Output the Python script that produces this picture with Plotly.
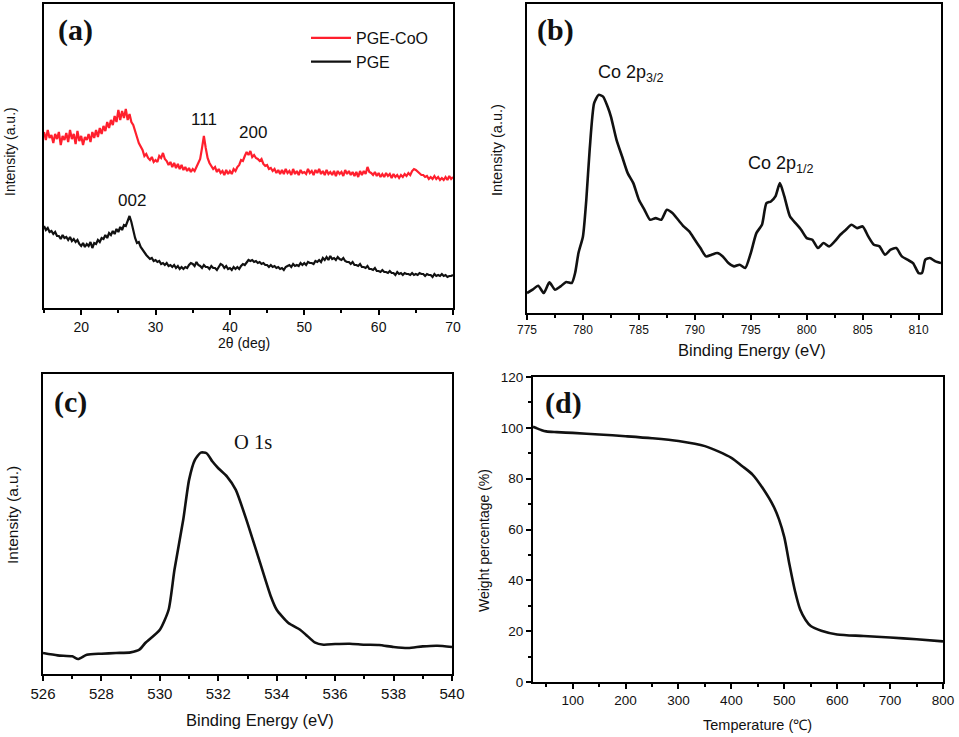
import numpy as np
import plotly.graph_objects as go

W, H = 959, 737

# ---- (a) XRD, 0.25 deg steps from 15 to 70
xrd_two_theta = np.arange(15, 70.001, 0.25)
pge_coo = [
    176, 168, 178, 170, 173, 165, 174, 169, 176, 163, 172, 168, 175, 166, 178, 169,
    174, 164, 177, 167, 172, 163, 171, 168, 174, 166, 176, 170, 178, 171, 180, 174,
    182, 177, 186, 180, 188, 183, 192, 186, 198, 188, 197, 190, 199, 188, 194, 186,
    183, 176, 171, 165, 162, 158, 152, 154, 150, 148, 151, 146, 148, 146, 152, 150,
    155, 149, 147, 143, 146, 141, 145, 140, 144, 139, 143, 138, 141, 137, 140, 136,
    139, 137, 141, 145, 149, 160, 172, 160, 150, 145, 142, 139, 141, 136, 139, 135,
    137, 133, 138, 134, 137, 134, 139, 137, 141, 143, 148, 147, 152, 156, 153, 157,
    151, 153, 150, 149, 147, 149, 144, 142, 143, 139, 140, 137, 139, 135, 138, 134,
    138, 134, 139, 135, 137, 133, 139, 134, 137, 133, 138, 135, 136, 134, 139, 135,
    137, 133, 138, 135, 139, 134, 137, 133, 138, 134, 136, 133, 137, 132, 137, 134,
    136, 132, 138, 134, 137, 133, 136, 132, 136, 131, 137, 133, 137, 134, 141, 136,
    135, 133, 136, 132, 135, 131, 134, 131, 135, 132, 134, 130, 134, 131, 133, 130,
    133, 131, 134, 132, 135, 133, 137, 139, 138, 136, 134, 133, 133, 131, 132, 129,
    131, 129, 132, 129, 131, 128, 130, 128, 131, 128, 132, 129, 131,
]
pge = [
    82, 78, 80, 76, 77, 74, 76, 72, 72, 69, 73, 70, 71, 68, 71, 67,
    69, 66, 68, 64, 62, 65, 61, 64, 62, 66, 60, 65, 64, 68, 66, 70,
    69, 73, 70, 75, 73, 77, 74, 79, 76, 81, 78, 83, 82, 87, 92, 86,
    76, 70, 65, 66, 61, 58, 56, 53, 51, 49, 50, 47, 48, 46, 47, 44,
    45, 43, 45, 42, 43, 41, 43, 40, 42, 39, 41, 39, 41, 40, 43, 45,
    44, 42, 46, 43, 42, 40, 43, 41, 41, 39, 42, 40, 40, 38, 41, 44,
    43, 40, 42, 39, 40, 38, 41, 39, 41, 39, 42, 44, 43, 45, 48, 47,
    48, 46, 47, 45, 46, 44, 45, 43, 43, 41, 43, 41, 42, 40, 41, 39,
    40, 38, 41, 42, 43, 41, 44, 42, 43, 42, 45, 43, 45, 43, 46, 45,
    45, 44, 47, 46, 48, 46, 50, 48, 51, 48, 52, 49, 50, 48, 51, 49,
    48, 50, 47, 46, 46, 44, 46, 43, 43, 42, 44, 41, 41, 40, 42, 39,
    39, 38, 40, 37, 37, 36, 38, 36, 36, 35, 37, 35, 35, 33, 36, 34,
    35, 33, 35, 34, 34, 33, 35, 33, 34, 33, 35, 34, 34, 32, 34, 33,
    33, 31, 34, 32, 33, 32, 34, 32, 33, 31, 32, 32, 33,
]

# ---- (b) Co 2p XPS
co_be = [775, 775.5, 776, 776.5, 777, 777.5, 778, 778.5, 779, 779.3, 779.6, 780,
         780.3, 780.6, 781, 781.4, 781.8, 782.2, 782.5, 783, 783.5, 784, 784.5,
         785, 785.5, 786, 786.5, 787, 787.5, 788, 788.5, 789, 789.5, 790, 790.5,
         791, 791.5, 792, 792.5, 793, 793.5, 794, 794.5, 795, 795.5, 796, 796.4,
         796.8, 797.2, 797.6, 798, 798.5, 799, 799.5, 800, 800.5, 801, 801.5, 802,
         802.5, 803, 803.5, 804, 804.5, 805, 805.5, 806, 806.5, 807, 807.5, 808,
         808.5, 809, 809.5, 810, 810.3, 810.6, 811, 811.5, 812]
co_int = [60, 70, 82, 60, 92, 70, 80, 93, 90, 120, 180, 230,
          340, 490, 630, 655, 650, 620, 590, 520, 470, 420, 390,
          340, 310, 280, 285, 280, 310, 300, 280, 260, 245, 220, 195,
          170, 175, 180, 170, 150, 140, 145, 135, 180, 240, 265, 330,
          335, 350, 390, 350, 290, 270, 250, 225, 220, 195, 210, 200,
          215, 235, 250, 265, 255, 260, 230, 205, 200, 175, 190, 195,
          170, 160, 150, 120, 120, 160, 165, 155, 150]

# ---- (c) O 1s XPS
o_be = [526, 526.5, 527, 527.2, 527.5, 528, 528.5, 529, 529.3, 529.5, 530, 530.3,
        530.5, 530.8, 531, 531.2, 531.4, 531.6, 531.8, 532, 532.3, 532.6, 533,
        533.4, 533.8, 534, 534.4, 534.8, 535, 535.3, 535.6, 536, 536.5, 537,
        537.5, 538, 538.5, 539, 539.5, 540]
o_int = [63, 56, 53, 45, 58, 61, 63, 65, 73, 93, 133, 193,
         313, 463, 583, 643, 665, 663, 638, 618, 593, 553, 453,
         343, 233, 193, 153, 133, 118, 95, 88, 90, 91, 88,
         87, 81, 78, 83, 85, 81]

# ---- (d) TGA
tga_temp = [25, 30, 40, 50, 70, 100, 150, 200, 250, 300, 350, 400, 420, 440, 460,
            480, 490, 500, 510, 520, 530, 540, 550, 570, 600, 650, 700, 750, 800]
tga_weight = [100.4, 100.0, 99.2, 98.6, 98.3, 98.0, 97.4, 96.7, 95.9, 94.8, 92.8,
              88.2, 85.0, 81.6, 76.0, 69.0, 64.0, 57.0, 46.0, 36.0, 28.5, 24.5,
              22.0, 20.2, 18.7, 18.1, 17.5, 16.8, 16.0]


def px_x(p):
    return p / W


def px_y(p):
    return 1 - p / H


SANS = "Liberation Sans, Arial, sans-serif"
SERIF = "Liberation Serif, Times New Roman, serif"

fig = go.Figure()
fig.add_trace(go.Scatter(x=xrd_two_theta, y=pge_coo, mode="lines", name="PGE-CoO",
                         line=dict(color="#ff1f2d", width=2.2), xaxis="x", yaxis="y"))
fig.add_trace(go.Scatter(x=xrd_two_theta, y=pge, mode="lines", name="PGE",
                         line=dict(color="#111111", width=2.2), xaxis="x", yaxis="y"))
fig.add_trace(go.Scatter(x=co_be, y=co_int, mode="lines", showlegend=False,
                         line=dict(color="#111111", width=2.6, shape="spline", smoothing=0.6),
                         xaxis="x2", yaxis="y2"))
fig.add_trace(go.Scatter(x=o_be, y=o_int, mode="lines", showlegend=False,
                         line=dict(color="#111111", width=2.6, shape="spline", smoothing=0.6),
                         xaxis="x3", yaxis="y3"))
fig.add_trace(go.Scatter(x=tga_temp, y=tga_weight, mode="lines", showlegend=False,
                         line=dict(color="#111111", width=2.6, shape="spline", smoothing=0.8),
                         xaxis="x4", yaxis="y4"))

box = dict(showline=True, mirror=True, linecolor="black", linewidth=2,
           showgrid=False, zeroline=False, ticks="outside", ticklen=5, tickwidth=1.5,
           tickcolor="black", automargin=False)


def minor(step):
    return dict(ticks="outside", ticklen=3, tickwidth=1.5, dtick=step, tickcolor="black")


def xa(dom, rng, dtick, size, anchor, **kw):
    d = dict(box, domain=[px_x(dom[0]), px_x(dom[1])], range=rng, dtick=dtick,
             anchor=anchor, tickfont=dict(family=SANS, size=size, color="#111"))
    d.update(kw)
    return d


def ya(dom, rng, anchor, **kw):
    d = dict(box, domain=[px_y(dom[1]), px_y(dom[0])], range=rng, anchor=anchor,
             showticklabels=False, ticks="")
    d.update(kw)
    return d


fig.update_layout(
    width=W, height=H, margin=dict(l=0, r=0, t=0, b=0, autoexpand=False),
    paper_bgcolor="white", plot_bgcolor="white",
    xaxis=xa((44, 453), [15, 70], 10, 14, "y", tick0=0, minor=minor(5)),
    yaxis=ya((4, 308), [0, 304], "x"),
    xaxis2=xa((527, 941), [775, 812], 5, 12, "y2", tick0=775, minor=minor(2.5)),
    yaxis2=ya((4, 313), [0, 928], "x2"),
    xaxis3=xa((43, 452), [526, 540], 2, 15, "y3", tick0=526, minor=minor(1)),
    yaxis3=ya((374, 674), [0, 901], "x3"),
    xaxis4=xa((533, 943), [25, 800], 100, 13.5, "y4", tick0=0, minor=minor(50)),
    yaxis4=ya((377, 682), [0, 120], "x4", showticklabels=True, ticks="outside",
              dtick=20, tick0=0,
              tickfont=dict(family=SANS, size=13.5, color="#111"),
              minor=minor(10)),
    showlegend=True,
    legend=dict(x=px_x(306), y=px_y(21), xanchor="left", yanchor="top",
                bgcolor="rgba(0,0,0,0)", font=dict(family=SANS, size=16, color="#111"),
                itemwidth=40, tracegroupgap=0),
)

ann = []


def label(text, x, y, size, family=SANS, angle=0, bold=False):
    if bold:
        text = "<b>" + text + "</b>"
    ann.append(dict(text=text, x=px_x(x), y=px_y(y), xref="paper", yref="paper",
                    xanchor="center", yanchor="middle",
                    showarrow=False, textangle=angle,
                    font=dict(family=family, size=size, color="#111")))


# panel letters
label("(a)", 75, 30, 30, SERIF, bold=True)
label("(b)", 555, 30, 30, SERIF, bold=True)
label("(c)", 70, 402, 30, SERIF, bold=True)
label("(d)", 563, 403, 30, SERIF, bold=True)

# axis titles
label("2θ (deg)", 244, 343, 14)
label("Intensity (a.u.)", 10, 152, 14, angle=-90)
label("Binding Energy (eV)", 752, 350, 16.5)
label("Intensity (a.u.)", 497, 150, 14.5, angle=-90)
label("Binding Energy (eV)", 260, 720, 16.5)
label("Intensity (a.u.)", 12, 515, 15.5, angle=-90)
label("Temperature (℃)", 757, 725, 14.5)
label("Weight percentage (%)", 484, 541, 14, angle=-90)

# peak labels
label("111", 204, 119, 17)
label("200", 253, 133, 17)
label("002", 132, 200, 17)
label("Co 2p<sub>3/2</sub>", 631, 73, 18)
label("Co 2p<sub>1/2</sub>", 781, 165, 18)
label("O 1s", 253, 442, 20.5, SERIF)

fig.update_layout(annotations=ann)

# page body has a default 8px margin; drop it so the figure sits at the window corner
fig.write_html("out.html", config={"displayModeBar": False},
               post_script="document.body.style.margin='0px';")
